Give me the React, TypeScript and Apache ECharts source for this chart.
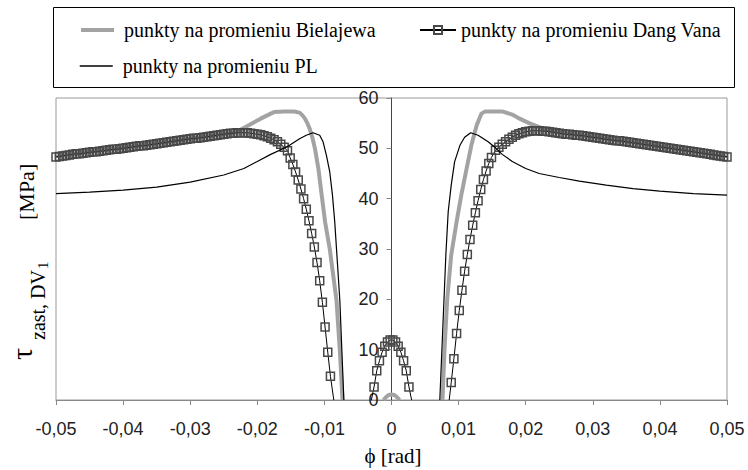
import React, { useEffect, useRef } from 'react';
import * as echarts from 'echarts';

// Shear stress τ_zast,DV1 [MPa] versus rotation angle φ [rad] for three families of points.

const xTicks = { min: -0.05, max: 0.05, step: 0.01 };
const yTicks = { min: 0, max: 60, step: 10 };

const seriesNames = [
  'punkty na promieniu Bielajewa',
  'punkty na promieniu Dang Vana',
  'punkty na promieniu PL',
];

// --- Bielajewa (thick grey line) ---
const bielajewaLeftPhi = [-0.05, -0.045, -0.04, -0.035, -0.03, -0.026, -0.0235, -0.0225, -0.021, -0.0195, -0.018, -0.0175, -0.016, -0.0145, -0.0137, -0.0133, -0.0129, -0.0125, -0.0122, -0.0118, -0.0114, -0.0109, -0.0104, -0.0099, -0.0092, -0.0082, -0.0077, -0.0073];
const bielajewaLeftTau = [48.4, 49.3, 50.1, 51.0, 51.9, 52.7, 53.1, 53.7, 54.8, 55.9, 56.9, 57.2, 57.3, 57.3, 57.1, 56.6, 55.9, 54.9, 53.9, 52.2, 49.9, 46.0, 40.7, 35.4, 30.0, 19.8, 9.9, 0];
const bielajewaMidPhi = [-0.0012, -0.0008, -0.0004, 0, 0.0004, 0.0008, 0.0012];
const bielajewaMidTau = [0, 0.6, 1.0, 1.1, 1.0, 0.6, 0];
const bielajewaRightPhi = [0.0076, 0.0079, 0.0083, 0.0089, 0.0097, 0.0104, 0.0112, 0.0119, 0.0127, 0.0134, 0.0139, 0.0166, 0.018, 0.0191, 0.0205, 0.0226, 0.025, 0.03, 0.035, 0.04, 0.045, 0.05];
const bielajewaRightTau = [0, 10, 20, 28.8, 35.4, 40.7, 46.0, 50.6, 54.6, 56.9, 57.3, 57.3, 56.7, 55.9, 55.0, 53.9, 53.2, 52.3, 51.4, 50.4, 49.4, 48.4];

// --- Dang Van (line with square markers) ---
// |φ| of the outer points, shared by both branches
const dangVanOuterPhi = [0.0155, 0.016, 0.0165, 0.017, 0.0175, 0.018, 0.0185, 0.019, 0.0195, 0.02, 0.0205, 0.021, 0.0215, 0.022, 0.0225, 0.023, 0.0235, 0.024, 0.0245, 0.025, 0.0255, 0.026, 0.0265, 0.027, 0.0275, 0.028, 0.0285, 0.029, 0.0295, 0.03, 0.0305, 0.031, 0.0315, 0.032, 0.0325, 0.033, 0.0335, 0.034, 0.0345, 0.035, 0.0355, 0.036, 0.0365, 0.037, 0.0375, 0.038, 0.0385, 0.039, 0.0395, 0.04, 0.0405, 0.041, 0.0415, 0.042, 0.0425, 0.043, 0.0435, 0.044, 0.0445, 0.045, 0.0455, 0.046, 0.0465, 0.047, 0.0475, 0.048, 0.0485, 0.049, 0.0495, 0.05];
const dangVanLeftOuterTau = [49.5, 50.2, 50.8, 51.3, 51.7, 52.0, 52.3, 52.5, 52.7, 52.8, 52.9, 53.0, 53.1, 53.1, 53.1, 53.1, 53.0, 53.0, 52.9, 52.8, 52.7, 52.6, 52.5, 52.4, 52.3, 52.2, 52.1, 52.0, 52.0, 51.9, 51.8, 51.7, 51.6, 51.5, 51.4, 51.3, 51.2, 51.1, 51.0, 50.9, 50.8, 50.7, 50.6, 50.5, 50.5, 50.4, 50.3, 50.2, 50.1, 50.0, 49.9, 49.8, 49.8, 49.7, 49.6, 49.5, 49.4, 49.3, 49.3, 49.2, 49.1, 49.0, 48.9, 48.9, 48.8, 48.7, 48.6, 48.5, 48.4, 48.3];
const dangVanRightOuterTau = [49.6, 50.2, 50.8, 51.3, 51.8, 52.2, 52.6, 52.9, 53.1, 53.3, 53.4, 53.5, 53.5, 53.5, 53.4, 53.4, 53.3, 53.2, 53.1, 53.0, 52.9, 52.8, 52.8, 52.7, 52.6, 52.6, 52.5, 52.4, 52.3, 52.2, 52.1, 52.0, 51.9, 51.8, 51.7, 51.6, 51.5, 51.5, 51.4, 51.3, 51.2, 51.1, 51.0, 50.9, 50.8, 50.7, 50.6, 50.5, 50.4, 50.3, 50.2, 50.1, 50.0, 49.9, 49.8, 49.7, 49.6, 49.5, 49.4, 49.3, 49.2, 49.1, 49.0, 48.9, 48.8, 48.7, 48.6, 48.5, 48.4, 48.3];
const dangVanLeftDropPhi = [-0.0151, -0.0147, -0.0143, -0.0139, -0.0135, -0.0131, -0.0127, -0.0123, -0.0119, -0.0115, -0.0111, -0.0107, -0.0103, -0.0099, -0.0095, -0.0091, -0.0086];
const dangVanLeftDropTau = [48.1, 46.8, 45.3, 43.7, 41.9, 40.0, 37.9, 35.6, 33.1, 30.4, 27.3, 23.7, 19.4, 14.5, 9.5, 4.7, 0];
const dangVanMidPhi = [-0.003, -0.0026, -0.0022, -0.0018, -0.0014, -0.001, -0.0006, -0.0002, 0.0002, 0.0006, 0.001, 0.0014, 0.0018, 0.0022, 0.0026, 0.003];
const dangVanMidTau = [0, 2.6, 5.8, 7.8, 9.5, 10.7, 11.5, 11.9, 11.9, 11.5, 10.7, 9.5, 7.8, 5.8, 2.6, 0];
const dangVanRightDropPhi = [0.0086, 0.0089, 0.0093, 0.0097, 0.0101, 0.0105, 0.0109, 0.0113, 0.0117, 0.0121, 0.0125, 0.0129, 0.0133, 0.0137, 0.0141, 0.0145, 0.0149];
const dangVanRightDropTau = [0, 3.5, 8.2, 13.2, 17.8, 21.8, 25.6, 28.9, 31.9, 34.7, 37.2, 39.6, 41.8, 43.8, 45.5, 47.0, 48.2];

// --- PL (thin black line) ---
const plLeftPhi = [-0.05, -0.045, -0.04, -0.035, -0.03, -0.025, -0.022, -0.02, -0.018, -0.0157, -0.0152, -0.0137, -0.0127, -0.0117, -0.0107, -0.0102, -0.0097, -0.0092, -0.0088, -0.00846, -0.0082, -0.0077, -0.0074, -0.0071];
const plLeftTau = [41.0, 41.3, 41.7, 42.3, 43.3, 44.7, 46.0, 47.4, 48.8, 50.2, 50.6, 51.9, 52.6, 53.1, 52.6, 51.3, 48.6, 45.3, 40.7, 35.4, 30.1, 19.8, 9.9, 0];
const plRightPhi = [0.0072, 0.0081, 0.00845, 0.0089, 0.0094, 0.0102, 0.0109, 0.0118, 0.0129, 0.0144, 0.0155, 0.0165, 0.018, 0.02, 0.022, 0.025, 0.028, 0.032, 0.036, 0.04, 0.045, 0.05];
const plRightTau = [0, 28.8, 37.4, 42.7, 47.3, 50.6, 52.2, 53.1, 52.6, 51.3, 50.1, 48.8, 47.4, 46.0, 45.0, 44.2, 43.5, 42.7, 42.0, 41.5, 41.0, 40.7];

const zip = (phi: number[], tau: number[]) => phi.map((p, i) => [p, tau[i]]);

// points lying on the φ axis keep the line but get no marker
const marked = (pts: number[][]) =>
  pts.map((p) => (p[1] === 0 ? { value: p, symbol: 'none' } : { value: p }));

const serif = 'Liberation Serif';
const sans = 'Liberation Sans';

const GREY = '#a3a3a3';

// plot rectangle
const GRID = { left: 56, right: 21, top: 98, bottom: 70 };
const CHART_W = 748;

export default function App() {
  const ref = useRef<HTMLDivElement>(null);

  useEffect(() => {
    if (!ref.current) return;
    const chart = echarts.init(ref.current, null, { renderer: 'svg' });

    const dangVanLeft = [
      ...dangVanOuterPhi.map((p, i) => [-p, dangVanLeftOuterTau[i]]).reverse(),
      ...zip(dangVanLeftDropPhi, dangVanLeftDropTau),
    ];
    const dangVanRight = [
      ...zip(dangVanRightDropPhi, dangVanRightDropTau),
      ...dangVanOuterPhi.map((p, i) => [p, dangVanRightOuterTau[i]]),
    ];

    const greyLine = (data: number[][]) => ({
      type: 'line',
      name: seriesNames[0],
      data,
      symbol: 'none',
      lineStyle: { color: GREY, width: 4 },
      itemStyle: { color: GREY },
      z: 2,
    });
    const squareLine = (data: any[]) => ({
      type: 'line',
      name: seriesNames[1],
      data,
      symbol: 'rect',
      symbolSize: 8,
      lineStyle: { color: '#000', width: 1 },
      itemStyle: { color: 'rgba(255,255,255,0)', borderColor: '#484848', borderWidth: 1.5 },
      z: 3,
    });
    const blackLine = (data: number[][]) => ({
      type: 'line',
      name: seriesNames[2],
      data,
      symbol: 'none',
      lineStyle: { color: '#000', width: 1.2 },
      itemStyle: { color: '#000' },
      z: 4,
    });

    const legendText = { fontFamily: serif, fontSize: 20, color: '#000' };

    // y axis drawn through φ = 0, in the middle of the plot
    const plotW = CHART_W - GRID.left - GRID.right;
    const yAxisShift = -plotW / 2;

    chart.setOption({
      animation: false,
      backgroundColor: '#fff',
      grid: {
        ...GRID,
        show: true,
        borderColor: '#999',
        borderWidth: 1,
      },
      legend: [
        {
          data: [seriesNames[0]],
          left: 79,
          top: 20,
          padding: 0,
          itemWidth: 33,
          itemHeight: 10,
          selectedMode: false,
          itemStyle: { opacity: 0 },
          lineStyle: { color: GREY, width: 4 },
          textStyle: { ...legendText, padding: [0, 0, 0, 5] },
        },
        {
          data: [seriesNames[1]],
          left: 419,
          top: 20,
          padding: 0,
          itemWidth: 36,
          itemHeight: 10,
          selectedMode: false,
          textStyle: legendText,
        },
        {
          data: [seriesNames[2]],
          left: 79,
          top: 56,
          padding: 0,
          itemWidth: 33,
          itemHeight: 10,
          selectedMode: false,
          itemStyle: { opacity: 0 },
          lineStyle: { color: '#000', width: 1.5 },
          textStyle: { ...legendText, padding: [0, 0, 0, 5] },
        },
      ],
      xAxis: {
        type: 'value',
        min: xTicks.min,
        max: xTicks.max,
        interval: xTicks.step,
        axisLine: { onZero: false, lineStyle: { color: '#888', width: 1 } },
        axisTick: { show: true, length: 5, lineStyle: { color: '#888' } },
        splitLine: { show: false },
        axisLabel: {
          fontFamily: sans,
          fontSize: 18,
          color: '#222',
          margin: 20,
          formatter: (v: number) =>
            Math.abs(v) < 1e-9 ? '0' : v.toFixed(2).replace('.', ','),
        },
      },
      yAxis: {
        type: 'value',
        min: yTicks.min,
        max: yTicks.max,
        interval: yTicks.step,
        offset: yAxisShift,
        axisLine: { show: true, onZero: false, lineStyle: { color: '#444', width: 1 } },
        axisTick: { show: true, length: 5, lineStyle: { color: '#888' } },
        splitLine: { show: false },
        axisLabel: { fontFamily: sans, fontSize: 18, color: '#222', margin: 13 },
      },
      series: [
        greyLine(zip(bielajewaLeftPhi, bielajewaLeftTau)),
        greyLine(zip(bielajewaMidPhi, bielajewaMidTau)),
        greyLine(zip(bielajewaRightPhi, bielajewaRightTau)),
        squareLine(marked(dangVanLeft)),
        squareLine(marked(zip(dangVanMidPhi, dangVanMidTau))),
        squareLine(marked(dangVanRight)),
        blackLine(zip(plLeftPhi, plLeftTau)),
        blackLine(zip(plRightPhi, plRightTau)),
      ],
      graphic: [
        {
          type: 'rect',
          shape: { x: 53.5, y: 7.5, width: 681, height: 80 },
          style: { fill: 'none', stroke: '#000', lineWidth: 1 },
          silent: true,
        },
        {
          type: 'text',
          x: 393,
          y: 456,
          style: {
            text: 'ϕ [rad]',
            fontFamily: serif,
            fontSize: 21,
            fill: '#000',
            align: 'center',
            verticalAlign: 'middle',
          },
        },
        {
          type: 'group',
          x: 0,
          y: 400,
          rotation: Math.PI / 2,
          children: [
            {
              type: 'text',
              x: 46,
              y: 21,
              style: { text: 'τ', fontFamily: serif, fontSize: 30, fill: '#000', align: 'center', verticalAlign: 'middle' },
            },
            {
              type: 'text',
              x: 60,
              y: 38,
              style: { text: 'zast, DV', fontFamily: serif, fontSize: 20, fill: '#000', align: 'left', verticalAlign: 'middle' },
            },
            {
              type: 'text',
              x: 131,
              y: 43,
              style: { text: '1', fontFamily: serif, fontSize: 15, fill: '#000', align: 'left', verticalAlign: 'middle' },
            },
            {
              type: 'text',
              x: 180,
              y: 26,
              style: { text: '[MPa]', fontFamily: serif, fontSize: 22, fill: '#000', align: 'left', verticalAlign: 'middle' },
            },
          ],
        },
      ],
    });

    return () => chart.dispose();
  }, []);

  return (
    <div
      ref={ref}
      style={{ position: 'fixed', left: 0, top: 0, width: 748, height: 470, background: '#fff' }}
    />
  );
}
